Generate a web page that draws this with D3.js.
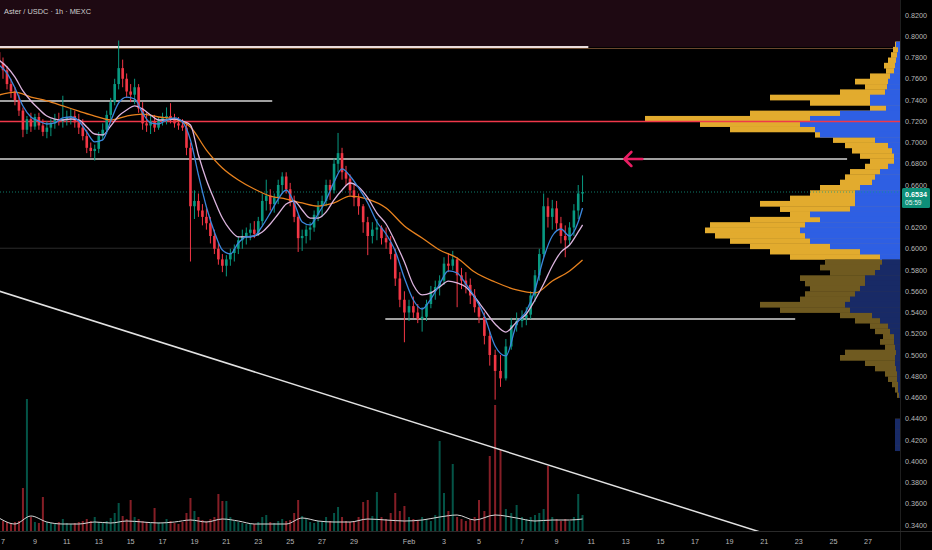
<!DOCTYPE html>
<html>
<head>
<meta charset="utf-8">
<script src="https://cdn.jsdelivr.net/npm/d3@7"></script>
<style>
  html, body { margin: 0; padding: 0; background: #000; }
  svg { display: block; font-family: "Liberation Sans", Arial, sans-serif; }
</style>
</head>
<body>
<svg id="chart" width="932" height="550"></svg>
<script>
// ---- data ----
// 6h candles, first one opens 6 Jan 18:00 UTC
const candleStart = Date.UTC(2026, 0, 6, 18);
const candleStepH = 6;
const firstOpen = 0.785;

const candleHigh = [
  .789,.780,.772,.760,.752,.745,.733,.725,.728,.727,
  .728,.722,.720,.722,.727,.728,.744,.730,.732,.730,
  .727,.722,.712,.700,.698,.710,.718,.730,.742,.760,
  .796,.778,.765,.755,.760,.755,.738,.728,.725,.726,
  .724,.728,.733,.737,.727,.724,.722,.718,.700,.655,
  .652,.642,.638,.630,.618,.606,.595,.594,.600,.604,
  .612,.618,.620,.624,.626,.630,.652,.665,.656,.652,
  .665,.672,.672,.662,.650,.632,.618,.622,.625,.636,
  .645,.650,.665,.665,.685,.709,.695,.678,.670,.660,
  .652,.642,.630,.625,.628,.622,.620,.612,.600,.578,
  .560,.552,.555,.548,.545,.552,.565,.570,.575,.592,
  .596,.598,.592,.582,.578,.572,.562,.550,.540,.522,
  .505,.500,.515,.535,.540,.542,.545,.560,.580,.600,
  .652,.648,.646,.645,.630,.622,.625,.642,.660,.669
];
const candleLow = [
  .770,.760,.750,.742,.735,.725,.705,.708,.710,.712,
  .712,.706,.704,.706,.713,.716,.714,.716,.717,.714,
  .708,.702,.690,.686,.683,.690,.702,.708,.722,.735,
  .750,.752,.742,.738,.736,.728,.712,.710,.708,.710,
  .712,.716,.717,.718,.714,.712,.711,.688,.588,.628,
  .630,.622,.618,.605,.595,.585,.578,.574,.584,.588,
  .595,.600,.604,.608,.610,.612,.622,.636,.636,.634,
  .642,.652,.652,.640,.625,.597,.598,.605,.608,.616,
  .626,.630,.640,.646,.652,.672,.665,.660,.650,.640,
  .632,.615,.594,.605,.608,.604,.600,.590,.565,.545,
  .512,.532,.535,.530,.522,.532,.544,.552,.556,.566,
  .578,.580,.545,.562,.558,.548,.540,.530,.510,.490,
  .458,.470,.476,.505,.522,.526,.528,.534,.550,.570,
  .592,.620,.618,.618,.605,.592,.604,.612,.628,.644
];
const candleClose = [
  .775,.768,.755,.748,.740,.730,.712,.722,.715,.724,
  .716,.710,.714,.718,.722,.720,.722,.724,.725,.719,
  .714,.706,.695,.692,.694,.706,.712,.726,.738,.755,
  .770,.760,.748,.745,.752,.732,.718,.716,.720,.714,
  .721,.723,.725,.722,.718,.716,.714,.695,.640,.645,
  .636,.630,.624,.612,.600,.590,.584,.590,.596,.600,
  .608,.612,.615,.618,.614,.626,.645,.650,.642,.648,
  .660,.668,.656,.645,.630,.610,.612,.618,.620,.632,
  .640,.645,.660,.655,.680,.690,.672,.666,.655,.648,
  .640,.625,.612,.618,.620,.610,.606,.595,.572,.552,
  .540,.546,.540,.534,.536,.548,.560,.564,.570,.586,
  .584,.590,.575,.570,.566,.556,.545,.536,.518,.500,
  .485,.478,.508,.528,.532,.535,.538,.556,.575,.595,
  .640,.630,.638,.624,.612,.608,.620,.636,.652,.6534
];
const volume = [
  12,10,9,8,9,10,43,132,14,9,
  8,34,9,8,7,9,12,8,7,8,
  9,10,12,10,14,9,8,10,13,18,
  28,15,12,31,14,12,10,9,8,23,
  9,8,12,10,8,7,9,18,33,20,
  14,11,10,12,14,37,30,30,14,10,
  9,8,7,8,7,9,14,16,9,8,
  10,12,10,11,18,31,15,12,9,8,
  10,9,14,10,18,24,14,10,9,10,
  14,29,31,15,39,14,12,18,38,20,
  25,14,12,10,14,12,10,16,90,38,
  20,67,14,12,10,12,14,31,20,75,
  126,81,22,18,26,14,12,14,16,18,
  22,65,14,12,10,12,10,14,37,16
];

// moving averages, sampled every 2 candles (fast, mid) / every 4 candles (slow, volume MA), plus last candle
const maFast = [
  .7729,.7654,.7513,.7344,.7240,.7202,.7174,.7184,.7231,.7240,
  .7202,.7099,.7005,.7024,.7202,.7372,.7428,.7409,.7278,.7184,
  .7174,.7212,.7231,.7193,.7024,.6694,.6393,.6158,.5988,.5951,
  .6054,.6111,.6120,.6214,.6336,.6468,.6553,.6431,.6252,.6224,
  .6327,.6459,.6628,.6751,.6685,.6572,.6431,.6252,.6139,.5979,
  .5725,.5518,.5433,.5527,.5668,.5791,.5772,.5668,.5546,.5367,
  .5085,.4991,.5292,.5414,.5612,.5913,.6120,.6186,.6120,.6252,
  .6384
];
const maMid = [
  .7776,.7711,.7616,.7485,.7391,.7315,.7249,.7221,.7212,.7221,
  .7212,.7146,.7080,.7071,.7155,.7249,.7306,.7344,.7315,.7259,
  .7212,.7212,.7221,.7202,.7165,.6882,.6647,.6459,.6289,.6176,
  .6111,.6111,.6120,.6158,.6233,.6327,.6421,.6449,.6365,.6289,
  .6289,.6346,.6459,.6553,.6619,.6581,.6478,.6336,.6233,.6064,
  .5875,.5659,.5565,.5584,.5640,.5696,.5678,.5640,.5546,.5424,
  .5292,.5216,.5311,.5386,.5518,.5668,.5838,.5969,.6035,.6158,
  .6224
];
const maSlow = [
  .7447,.7475,.7428,.7391,.7344,.7296,.7249,.7212,.7249,.7268,
  .7240,.7221,.7146,.6929,.6760,.6647,.6562,.6496,.6468,.6431,
  .6402,.6431,.6496,.6468,.6384,.6214,.6101,.5988,.5913,.5781,
  .5687,.5612,.5584,.5696,.5791,.5894
];
const volMA = [
  13,7,15,9,7,7,9,8,10,9,8,9,11,9,12,10,7,7,
  7,13,10,9,9,12,11,10,11,14,16,11,16,13,10,11,11,12
];

// visible range volume profile: row lower bound, up volume, down volume
const profileLow = [
  .790,.785,.780,.775,.770,.765,.760,.755,.750,.745,
  .740,.735,.730,.725,.720,.715,.710,.705,.700,.695,
  .690,.685,.680,.675,.670,.665,.660,.655,.650,.645,
  .640,.635,.630,.625,.620,.615,.610,.605,.600,.595,
  .590,
  .585,.580,.575,.570,.565,.560,.555,.550,.545,.540,
  .535,.530,.525,.520,.515,.510,.505,.500,.495,.490,
  .485,.480,.475,.470,.465,.460,
  .435,.430,.425,.420,.415,.410
];
const profileUp = [
  4,2,3,4,5,6,10,12,13,15,
  30,30,14,60,90,100,85,80,25,12,
  8,6,6,12,20,25,28,40,45,45,
  45,50,90,80,95,100,95,90,70,40,
  20,
  18,20,25,35,35,40,45,50,55,50,
  28,20,12,10,6,6,5,4,5,5,
  4,3,3,2,2,1,
  5,5,5,5,5,5
];
const profileDown = [
  1,5,6,8,11,8,20,33,22,45,
  100,60,16,90,165,100,85,5,42,43,
  40,34,24,23,30,30,32,40,45,65,
  95,70,20,70,95,95,90,80,80,90,
  90,
  57,60,45,65,60,50,50,50,85,70,
  32,25,18,15,11,14,10,51,55,30,
  21,12,9,6,3,2,
  0,0,0,0,0,0
];
const profileRow = 0.005;
const valueAreaLow = 0.59;

// drawings
const zoneLow = 0.7899;
const redLevel = 0.7198;
const levelPrice = [0.7899, 0.7390, 0.6845, 0.5339];
const levelStart = ["2026-01-06T00:00", "2026-01-06T00:00", "2026-01-06T00:00", "2026-01-30T17:00"];
const levelEnd   = ["2026-02-10T20:00", "2026-01-23T21:00", "2026-02-25T19:00", "2026-02-22T19:00"];
const faintLevel = 0.6005;
const trendStart = ["2026-01-06T18:00", 0.5602];
const trendEnd   = ["2026-02-21T00:00", 0.3322];
const arrowAt    = ["2026-02-12T22:00", 0.6845];
const lastPrice = 0.6534;
const countdown = "05:59";
const title = "Aster / USDC · 1h · MEXC";

const priceTicks = [0.34,0.36,0.38,0.40,0.42,0.44,0.46,0.48,0.50,0.52,0.54,0.56,0.58,
                    0.60,0.62,0.64,0.66,0.68,0.70,0.72,0.74,0.76,0.78,0.80,0.82];
const timeTicks = ["2026-01-07","2026-01-09","2026-01-11","2026-01-13","2026-01-15","2026-01-17",
                   "2026-01-19","2026-01-21","2026-01-23","2026-01-25","2026-01-27","2026-01-29",
                   "2026-02-01","2026-02-03","2026-02-05","2026-02-07","2026-02-09","2026-02-11",
                   "2026-02-13","2026-02-15","2026-02-17","2026-02-19","2026-02-21","2026-02-23",
                   "2026-02-25","2026-02-27"];
const timeLabels = ["7","9","11","13","15","17","19","21","23","25","27","29",
                    "Feb","3","5","7","9","11","13","15","17","19","21","23","25","27"];

// ---- layout ----
const W = 932, H = 550;
const plotR = 900, plotB = 531;
const upCol = "#089981", downCol = "#f23645";

const parseT = d3.utcParse("%Y-%m-%dT%H:%M");
const parseD = d3.utcParse("%Y-%m-%d");
const candleTime = i => new Date(candleStart + i * candleStepH * 3600e3);

// the time axis is not evenly spaced in the screenshot, so anchor it piecewise
const x = d3.scaleUtc()
  .domain(["2026-01-07", "2026-01-29", "2026-02-01", "2026-02-05", "2026-02-07", "2026-02-27"].map(parseD))
  .range([3, 354, 409, 479, 522, 868]);
const y = d3.scaleLinear().domain([0.34, 0.82]).range([525, 15]);
const yVol = d3.scaleLinear().domain([0, 130]).range([plotB, plotB - 130]);
const wProf = d3.scaleLinear().domain([0, 255]).range([0, 255]);

const svg = d3.select("#chart");
svg.append("rect").attr("width", W).attr("height", H).attr("fill", "#000");
svg.append("defs").append("clipPath").attr("id", "plotClip")
  .append("rect").attr("width", plotR).attr("height", plotB);

const plot = svg.append("g").attr("clip-path", "url(#plotClip)");

// top zone
plot.append("rect")
  .attr("x", 0).attr("y", 0).attr("width", plotR).attr("height", y(zoneLow))
  .attr("fill", "#1e0912");
plot.append("line")
  .attr("x1", 0).attr("x2", plotR).attr("y1", y(zoneLow) + 1.5).attr("y2", y(zoneLow) + 1.5)
  .attr("stroke", "#6e4b2f").attr("stroke-width", 1);

// faint level
plot.append("line")
  .attr("x1", 0).attr("x2", plotR).attr("y1", y(faintLevel)).attr("y2", y(faintLevel))
  .attr("stroke", "#2c2c2c").attr("stroke-width", 1);

// volume profile
const prof = plot.append("g");
const rows = profileLow.map((p, k) => ({ p, up: profileUp[k], dn: profileDown[k] }));
prof.selectAll("rect.tot").data(rows).join("rect").attr("class", "tot")
  .attr("x", d => plotR - wProf(d.up + d.dn))
  .attr("y", d => y(d.p + profileRow))
  .attr("width", d => wProf(d.up + d.dn))
  .attr("height", d => y(d.p) - y(d.p + profileRow) + 0.4)
  .attr("fill", d => d.p >= valueAreaLow ? "#e2ab2e" : "#6f5a20");
prof.selectAll("rect.up").data(rows).join("rect").attr("class", "up")
  .attr("x", d => plotR - wProf(d.up))
  .attr("y", d => y(d.p + profileRow))
  .attr("width", d => wProf(d.up))
  .attr("height", d => y(d.p) - y(d.p + profileRow) + 0.4)
  .attr("fill", d => d.p >= valueAreaLow ? "#2e5fe3" : "#182a66");

// last price line
plot.append("line")
  .attr("x1", 0).attr("x2", plotR).attr("y1", y(lastPrice)).attr("y2", y(lastPrice))
  .attr("stroke", "#139a84").attr("stroke-width", 1).attr("stroke-dasharray", "1,2").attr("opacity", 0.8);

// candles
const candles = candleClose.map((c, i) => ({
  t: candleTime(i),
  o: i ? candleClose[i - 1] : firstOpen,
  h: candleHigh[i], l: candleLow[i], c, v: volume[i]
}));

// volume bars
plot.append("g").selectAll("rect").data(candles).join("rect")
  .attr("x", d => x(d.t) - 1)
  .attr("width", 2)
  .attr("y", d => yVol(d.v))
  .attr("height", d => plotB - yVol(d.v))
  .attr("fill", d => d.c >= d.o ? upCol : downCol)
  .attr("opacity", 0.55);

const idxStep = (step) => d3.range(0, candles.length, step).concat([candles.length - 1]);
plot.append("path")
  .datum(idxStep(4).map((i, k) => [i, volMA[k]]))
  .attr("fill", "none").attr("stroke", "#d8d8d8").attr("stroke-width", 1)
  .attr("d", d3.line().x(d => x(candleTime(d[0]))).y(d => yVol(d[1])).curve(d3.curveMonotoneX));

// horizontal levels
plot.append("line")
  .attr("x1", 0).attr("x2", plotR).attr("y1", y(redLevel)).attr("y2", y(redLevel))
  .attr("stroke", "#f0384a").attr("stroke-width", 1.6);
plot.append("g").selectAll("line").data(levelPrice).join("line")
  .attr("x1", (d, k) => x(parseT(levelStart[k])))
  .attr("x2", (d, k) => x(parseT(levelEnd[k])))
  .attr("y1", d => y(d)).attr("y2", d => y(d))
  .attr("stroke", (d, k) => k === 0 ? "#e9dcdc" : "#d6d6d6")
  .attr("stroke-width", (d, k) => k === 0 ? 1.8 : 1.5);

// trend line
plot.append("line")
  .attr("x1", x(parseT(trendStart[0]))).attr("y1", y(trendStart[1]))
  .attr("x2", x(parseT(trendEnd[0]))).attr("y2", y(trendEnd[1]))
  .attr("stroke", "#e2e2e2").attr("stroke-width", 1.5);

// candle wicks + bodies
const cg = plot.append("g");
cg.selectAll("line").data(candles).join("line")
  .attr("x1", d => x(d.t)).attr("x2", d => x(d.t))
  .attr("y1", d => y(d.h)).attr("y2", d => y(d.l))
  .attr("stroke", d => d.c >= d.o ? upCol : downCol).attr("stroke-width", 1);
cg.selectAll("rect").data(candles).join("rect")
  .attr("x", d => x(d.t) - 1.3).attr("width", 2.6)
  .attr("y", d => y(Math.max(d.o, d.c)))
  .attr("height", d => Math.max(1, Math.abs(y(d.o) - y(d.c))))
  .attr("fill", d => d.c >= d.o ? upCol : downCol);

// moving averages
const maLine = d3.line().x(d => x(candleTime(d[0]))).y(d => y(d[1])).curve(d3.curveMonotoneX);
plot.append("path").datum(idxStep(4).map((i, k) => [i, maSlow[k]]))
  .attr("fill", "none").attr("stroke", "#e8821e").attr("stroke-width", 1.3).attr("d", maLine);
plot.append("path").datum(idxStep(2).map((i, k) => [i, maMid[k]]))
  .attr("fill", "none").attr("stroke", "#dcb4de").attr("stroke-width", 1.3).attr("d", maLine);
plot.append("path").datum(idxStep(2).map((i, k) => [i, maFast[k]]))
  .attr("fill", "none").attr("stroke", "#3b86dc").attr("stroke-width", 1.3).attr("d", maLine);

// arrow annotation
const ax = x(parseT(arrowAt[0])), ay = y(arrowAt[1]);
plot.append("path")
  .attr("d", `M${ax + 18},${ay} L${ax},${ay} M${ax + 7},${ay - 7} L${ax},${ay} L${ax + 7},${ay + 7}`)
  .attr("fill", "none").attr("stroke", "#e91e63").attr("stroke-width", 2.6)
  .attr("stroke-linecap", "round").attr("stroke-linejoin", "round");

// axes frame
svg.append("line").attr("x1", plotR + 0.5).attr("x2", plotR + 0.5).attr("y1", 0).attr("y2", H)
  .attr("stroke", "#1e1e1e");
svg.append("line").attr("x1", 0).attr("x2", W).attr("y1", plotB + 0.5).attr("y2", plotB + 0.5)
  .attr("stroke", "#2a2a2a");

// price axis (a label fully under the last-price tag is hidden, as on the platform)
const ly = y(lastPrice);
const tagTop = ly - 4, tagH = 20;
svg.append("g").selectAll("text")
  .data(priceTicks.filter(d => y(d) + 2.5 < tagTop || y(d) - 3.5 > tagTop + tagH))
  .join("text")
  .attr("x", 905).attr("y", d => y(d)).attr("dy", "0.35em")
  .attr("font-size", 7.2).attr("fill", "#b9b9b9")
  .text(d => d3.format(".4f")(d));

// time axis
svg.append("g").selectAll("text").data(timeTicks).join("text")
  .attr("x", d => x(parseD(d))).attr("y", 541).attr("dy", "0.35em")
  .attr("text-anchor", "middle").attr("font-size", 7.2).attr("fill", "#b9b9b9")
  .text((d, k) => timeLabels[k]);

// last price tag
svg.append("rect").attr("x", 902).attr("y", tagTop).attr("width", 28).attr("height", tagH)
  .attr("rx", 1.5).attr("fill", "#0e8f78");
svg.append("text").attr("x", 905).attr("y", ly + 2.2).attr("dy", "0.35em")
  .attr("font-size", 7.2).attr("font-weight", "bold").attr("fill", "#ffffff")
  .text(d3.format(".4f")(lastPrice));
svg.append("text").attr("x", 905).attr("y", ly + 10.3).attr("dy", "0.35em")
  .attr("font-size", 6.6).attr("fill", "#e8f5f2")
  .text(countdown);

// title
svg.append("text").attr("x", 4).attr("y", 11).attr("dy", "0.35em")
  .attr("font-size", 7.4).attr("fill", "#cfcfcf")
  .text(title);
</script>
</body>
</html>
